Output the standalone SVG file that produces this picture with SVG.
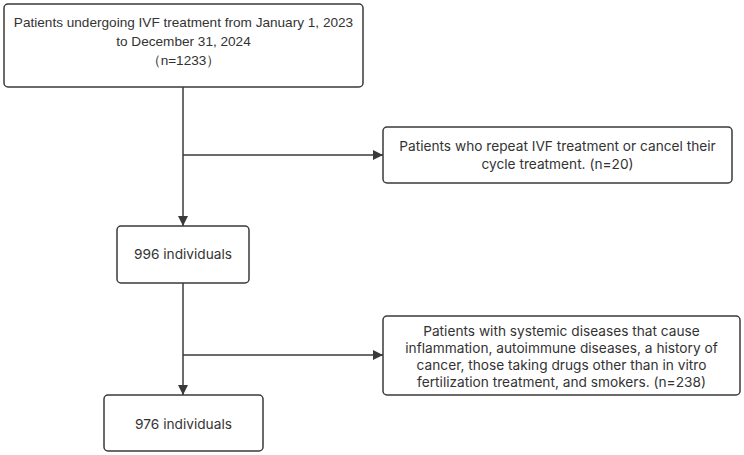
<svg xmlns="http://www.w3.org/2000/svg" width="744" height="455" viewBox="0 0 744 455">
<style>
.box{fill:#fff;stroke:#3a3a3a;stroke-width:1.5}
.t1{font-family:"Liberation Sans",Arial,sans-serif;font-size:13.6px;fill:#333;text-anchor:middle}
.t2{font-family:Inter,"Open Sans",sans-serif;font-size:13.7px;fill:#333;text-anchor:middle}
.ln{fill:none;stroke:#3a3a3a;stroke-width:1.5}
</style>
<defs>
<marker id="ah" markerWidth="10" markerHeight="10" refX="10" refY="5" orient="auto" markerUnits="userSpaceOnUse">
<path d="M0,0 L10,5 L0,10 Z" fill="#3a3a3a"/>
</marker>
</defs>
<rect width="744" height="455" fill="#fff"/>
<g id="connectors">
<line class="ln" x1="183" y1="87" x2="183" y2="226" marker-end="url(#ah)"/>
<line class="ln" x1="183" y1="155" x2="383" y2="155" marker-end="url(#ah)"/>
<line class="ln" x1="183" y1="283" x2="183" y2="395" marker-end="url(#ah)"/>
<line class="ln" x1="183" y1="355" x2="383" y2="355" marker-end="url(#ah)"/>
</g>
<g id="start">
<rect class="box" x="4" y="4" width="359" height="83" rx="4"/>
<text class="t1" x="183.5" y="27">Patients undergoing IVF treatment from January 1, 2023</text>
<text class="t1" x="183.5" y="46">to December 31, 2024</text>
<text class="t1" x="183.5" y="65">（n=1233）</text>
</g>
<g id="excl1">
<rect class="box" x="383" y="127" width="349" height="56" rx="4"/>
<text class="t2" x="557.5" y="151">Patients who repeat IVF treatment or cancel their</text>
<text class="t2" x="557.5" y="169">cycle treatment. (n=20)</text>
</g>
<g id="n996">
<rect class="box" x="117" y="226" width="132" height="57" rx="4"/>
<text class="t2" x="183" y="259">996 individuals</text>
</g>
<g id="excl2">
<rect class="box" x="383" y="316" width="357" height="79" rx="4"/>
<text class="t2" x="561.5" y="336">Patients with systemic diseases that cause</text>
<text class="t2" x="561.5" y="353">inflammation, autoimmune diseases, a history of</text>
<text class="t2" x="561.5" y="370">cancer, those taking drugs other than in vitro</text>
<text class="t2" x="561.5" y="387">fertilization treatment, and smokers.  (n=238)</text>
</g>
<g id="n976">
<rect class="box" x="104" y="395" width="159" height="56" rx="4"/>
<text class="t2" x="183.5" y="429">976 individuals</text>
</g>
</svg>
